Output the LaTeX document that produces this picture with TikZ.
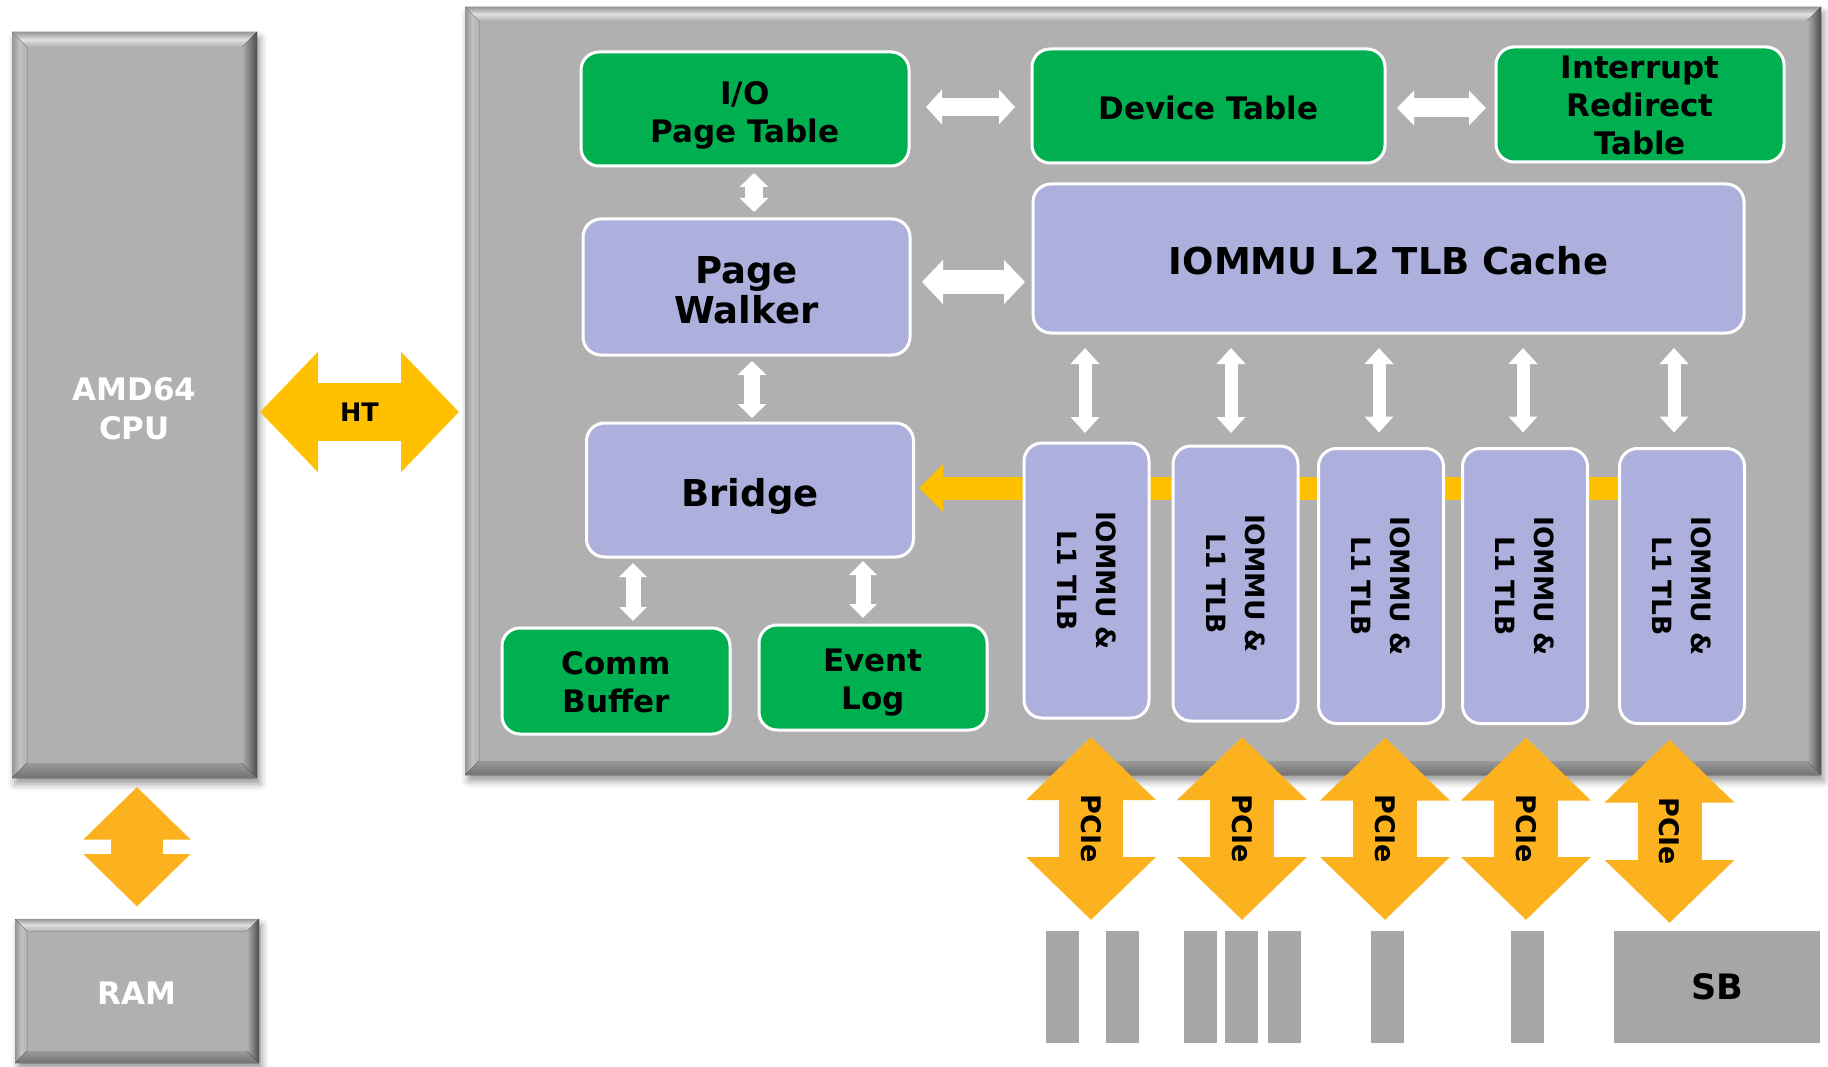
\documentclass[tikz,border=0pt]{standalone}
\usepackage{fontspec}
\setmainfont{DejaVu Sans}
\usetikzlibrary{arrows.meta,calc,shadows.blur}

\definecolor{boxgray}{RGB}{176,176,176}
\definecolor{bvdark}{gray}{0.60}
\definecolor{bvlight}{gray}{0.88}
\definecolor{bvedge}{gray}{0.58}
\definecolor{bvleftlight}{gray}{0.76}
\definecolor{bvshade}{gray}{0.30}
\definecolor{bvbottom}{gray}{0.45}
\definecolor{tblgreen}{RGB}{0,176,80}
\definecolor{lav}{RGB}{173,176,220}
\definecolor{htyellow}{RGB}{255,192,0}
\definecolor{pcieyellow}{RGB}{251,178,30}
\definecolor{devgray}{RGB}{166,166,166}

\newcommand\fntCpu{\bfseries\fontsize{31}{39}\selectfont}
\newcommand\fntTbl{\bfseries\fontsize{31}{38}\selectfont}
\newcommand\fntBig{\bfseries\fontsize{37}{40}\selectfont}
\newcommand\fntLone{\bfseries\fontsize{26.5}{39}\selectfont}
\newcommand\fntHT{\bfseries\fontsize{25.5}{30}\selectfont}
\newcommand\fntPcie{\bfseries\fontsize{27}{30}\selectfont}
\newcommand\fntSB{\bfseries\fontsize{35}{40}\selectfont}

% bevelled rim around a rectangular node: #1 node name, #2 rim width
\newcommand\drawbevel[2]{%
  \fill[bevtop] (#1.north west) -- (#1.north east) -- ($(#1.north east)+(-#2,#2)$) -- ($(#1.north west)+(#2,#2)$) -- cycle;
  \fill[bevleft] (#1.north west) -- ($(#1.north west)+(#2,#2)$) -- ($(#1.south west)+(#2,-#2)$) -- (#1.south west) -- cycle;
  \fill[bevright] (#1.north east) -- (#1.south east) -- ($(#1.south east)+(-#2,-#2)$) -- ($(#1.north east)+(-#2,#2)$) -- cycle;
  \fill[bevbot] (#1.south west) -- (#1.south east) -- ($(#1.south east)+(-#2,-#2)$) -- ($(#1.south west)+(#2,-#2)$) -- cycle;
}

\tikzset{
  every node/.style={inner sep=0pt, outer sep=0pt},
  bevtop/.style={top color=bvdark, bottom color=boxgray, middle color=bvlight},
  bevleft/.style={left color=bvedge, right color=boxgray, middle color=bvleftlight},
  bevright/.style={left color=boxgray, right color=bvshade},
  bevbot/.style={top color=bvdark, bottom color=bvbottom},
  graybox/.style={fill=boxgray, blur shadow={shadow xshift=3pt, shadow yshift=-6pt,
      shadow blur radius=7pt, shadow opacity=40}},
  roundbox/.style={draw=white, line width=3pt, rounded corners=18pt},
  greenbox/.style={roundbox, fill=tblgreen},
  lavbox/.style={roundbox, fill=lav},
  devbox/.style={fill=devgray},
  tbltext/.style={align=center, font=\fntTbl},
  bigtext/.style={align=center, font=\fntBig},
  cputext/.style={align=center, font=\fntCpu, text=white},
  dblarrow/.style n args={3}{line width=#1,
      {Triangle[length=#2,width=#3]}-{Triangle[length=#2,width=#3]}},
  whitearrow/.style n args={3}{draw=white, dblarrow={#1}{#2}{#3}},
  htarrow/.style={draw=htyellow, dblarrow={58pt}{58pt}{117pt}},
  ramarrow/.style={draw=pcieyellow, dblarrow={52pt}{52.5pt}{104pt}},
  pciearrow/.style={draw=pcieyellow, dblarrow={64pt}{63pt}{126pt}},
  busarrow/.style={draw=htyellow, line width=23pt, -{Triangle[length=24pt,width=46pt]}},
}

\begin{document}
\begin{tikzpicture}[x=1pt,y=-1pt]
\useasboundingbox (0,0) rectangle (1828,1067);

% IOMMU housing
\node[graybox, minimum width=1356pt, minimum height=768pt] (iommu) at (1143,391) {};
\drawbevel{iommu}{14}

% processor and memory
\node[graybox, minimum width=245pt, minimum height=746pt] (cpu) at (134.5,405) {};
\drawbevel{cpu}{15}
\node[cputext] (cpu-t) at ($(cpu.center)+(0,3.5)$) {AMD64\\CPU};
\node[graybox, minimum width=244pt, minimum height=144pt] (ram) at (137,991) {};
\drawbevel{ram}{12}
\node[cputext] (ram-t) at ($(ram.center)+(0,2)$) {RAM};

% HyperTransport link and memory link
\draw[htarrow] ($(cpu.east)+(3,7)$) -- ($(iommu.west |- cpu.east)+(-6,7)$)
  node[midway, font=\fntHT] (ht) {HT};
\draw[ramarrow] ($(cpu.south)+(2.5,9)$) -- ($(ram.north)+(0,-12.5)$);

% in-memory tables
\node[greenbox, minimum width=328pt, minimum height=114pt] (iopt) at (745,109) {};
\node[tbltext] (iopt-t) at ($(iopt.center)+(0,6)$) {I/O\\Page Table};
\node[greenbox, minimum width=353pt, minimum height=114pt] (devt) at (1208.5,106) {};
\node[tbltext] (devt-t) at ($(devt.center)+(0,2)$) {Device Table};
\node[greenbox, minimum width=288pt, minimum height=115pt] (irt) at (1640,104.5) {};
\node[tbltext] (irt-t) at ($(irt.center)+(0,1)$) {Interrupt\\Redirect\\Table};
\node[greenbox, minimum width=228pt, minimum height=106pt] (comm) at (616,681) {};
\node[tbltext] (comm-t) at ($(comm.center)+(0,1)$) {Comm\\Buffer};
\node[greenbox, minimum width=228pt, minimum height=105pt] (evlog) at (873,677.5) {};
\node[tbltext] (evlog-t) at ($(evlog.center)+(0,5)$) {Event\\Log};

% translation logic
\node[lavbox, minimum width=327pt, minimum height=136pt] (walker) at (746.5,287) {};
\node[bigtext] (walker-t) at ($(walker.center)+(0,3.5)$) {Page\\Walker};
\node[lavbox, minimum width=711pt, minimum height=149pt] (l2) at (1388.5,258.5) {};
\node[bigtext] (l2-t) at ($(l2.center)+(0,2.5)$) {IOMMU L2 TLB Cache};
\node[lavbox, minimum width=327pt, minimum height=134pt] (bridge) at (750,490) {};
\node[bigtext] (bridge-t) at ($(bridge.center)+(0,6)$) {Bridge};

% shared bus from the L1 TLBs to the bridge
\coordinate (busend) at (1640,488);
\draw[busarrow] (busend) -- ($(bridge.east)+(5.5,-2)$);

% per-port L1 TLBs
\foreach \n/\cx/\cy in {l1a/1086.5/580.5, l1b/1235.5/583.5, l1c/1381/586, l1d/1525/586, l1e/1682/586} {
  \node[lavbox, minimum width=125pt, minimum height=275pt] (\n) at (\cx,\cy) {};
  \node[rotate=-90, align=center, font=\fntLone] (\n-txt) at (\n.center) {IOMMU \&\\L1 TLB};
}

% internal data paths
\draw[whitearrow={18pt}{16pt}{34pt}] ($(iopt.east)+(17,-2)$) -- ($(iopt.east -| devt.west)+(-17,-2)$);
\draw[whitearrow={19pt}{17pt}{34pt}] ($(devt.east)+(12,2)$) -- ($(devt.east -| irt.west)+(-10,2)$);
\draw[whitearrow={18pt}{14pt}{28pt}] ($(iopt.south)+(9,7)$) -- ($(iopt.south |- walker.north)+(9,-7)$);
\draw[whitearrow={24pt}{21pt}{43pt}] ($(walker.east)+(12,-5)$) -- ($(walker.east -| l2.west)+(-8,-5)$);
\draw[whitearrow={16pt}{14pt}{28pt}] ($(walker.south)+(5.5,6)$) -- ($(walker.south |- bridge.north)+(5.5,-5)$);
\draw[whitearrow={15pt}{14pt}{27pt}] ($(bridge.south -| comm.north)+(17,6)$) -- ($(comm.north)+(17,-7)$);
\draw[whitearrow={15pt}{14pt}{27pt}] ($(bridge.south -| evlog.north)+(-10,4)$) -- ($(evlog.north)+(-10,-7)$);
\foreach \n/\dx/\g in {l1a/-1.5/10, l1b/-4.5/13, l1c/-2/16, l1d/-2/16, l1e/-8/16}
  \draw[whitearrow={13pt}{16pt}{28pt}] ($(l2.south -| \n.north)+(\dx,15)$) -- ($(\n.north)+(\dx,-\g)$);

% devices on the PCIe ports
\node[devbox, minimum width=33pt, minimum height=112pt] (devA1) at (1062.5,987) {};
\node[devbox, minimum width=33pt, minimum height=112pt] (devA2) at (1122.5,987) {};
\node[devbox, minimum width=33pt, minimum height=112pt] (devB1) at (1200.5,987) {};
\node[devbox, minimum width=33pt, minimum height=112pt] (devB2) at (1241.5,987) {};
\node[devbox, minimum width=33pt, minimum height=112pt] (devB3) at (1284.5,987) {};
\node[devbox, minimum width=33pt, minimum height=112pt] (devC) at (1387.5,987) {};
\node[devbox, minimum width=33pt, minimum height=112pt] (devD) at (1527.5,987) {};
\node[devbox, minimum width=206pt, minimum height=112pt, font=\fntSB] (sb) at (1717,987) {SB};

% PCIe links
\coordinate (pcieA) at (1091,920);
\coordinate (pcieB) at (1242,920);
\coordinate (pcieC) at (1385,920);
\coordinate (pcieD) at (1526,920);
\coordinate (pcieE) at (1669.5,923);
\foreach \n/\p/\dx/\dy in {l1a/pcieA/4.5/19, l1b/pcieB/6.5/16, l1c/pcieC/4/14, l1d/pcieD/1/14, l1e/pcieE/-12.5/16}
  \draw[pciearrow] ($(\n.south)+(\dx,\dy)$) -- (\p)
    node[midway, rotate=-90, font=\fntPcie] (\p-lbl) {PCIe};
\end{tikzpicture}
\end{document}
